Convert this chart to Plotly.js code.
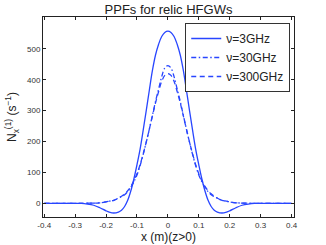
<!DOCTYPE html>
<html>
<head>
<meta charset="utf-8">
<script src="https://cdn.plot.ly/plotly-3.0.1.min.js"></script>
<style>html,body{margin:0;padding:0;background:#fff;}#chart{width:326px;height:245px;}</style>
</head>
<body>
<div id="chart"></div>
<script>
// x positions (m)
const xPos = [-0.4,-0.35,-0.3,-0.28,-0.26,-0.24,-0.22,-0.2,-0.19,-0.175,-0.16,-0.15,-0.14,-0.13,-0.12,-0.11,-0.1,-0.09,-0.08,-0.07,-0.06,-0.05,-0.04,-0.03,-0.02,-0.01,0,
  0.01,0.02,0.03,0.04,0.05,0.06,0.07,0.08,0.09,0.1,0.11,0.12,0.13,0.14,0.15,0.16,0.175,0.19,0.2,0.22,0.24,0.26,0.28,0.3,0.35,0.4];
// nu = 3 GHz (solid)
const n3GHz = [0,0,0,0,-2,-6,-14,-24,-28,-31,-28,-22,-10,10,40,79,125,175,236,300,366,430,480,515,540,553,557,
  553,540,515,480,430,366,300,236,175,125,79,40,10,-10,-22,-28,-31,-28,-24,-14,-6,-2,0,0,0,0];
// nu = 30 GHz (dash-dot)
const n30GHz = [0,0,0,0,0.5,1,2,5,7,10,17,22,28,38,52,70,92,122,158,198,240,285,330,370,410,438,446,
  438,410,370,330,285,240,198,158,122,92,70,52,38,28,22,17,10,7,5,2,1,0.5,0,0,0,0];
// nu = 300 GHz (dashed)
const n300GHz = [0,0,0,0,0.5,1,2,5,7,10,17,23,31,41,55,73,96,125,160,198,240,283,325,362,395,414,420,
  414,395,362,325,283,240,198,160,125,96,73,55,41,31,23,17,10,7,5,2,1,0.5,0,0,0,0];
const seriesNames = ['\u03bd=3GHz','\u03bd=30GHz','\u03bd=300GHz'];
const xTicks = [-0.4,-0.3,-0.2,-0.1,0,0.1,0.2,0.3,0.4];
const xTickText = ['-0.4','-0.3','-0.2','-0.1','0','0.1','0.2','0.3','0.4'];
const yTicks = [0,100,200,300,400,500];

const blue = 'rgb(40,70,255)';
const font = '"Liberation Sans", Arial, Helvetica, sans-serif';
const traces = [
  {x:xPos, y:n3GHz, name:seriesNames[0], mode:'lines', line:{color:blue, width:1.3, dash:'solid', shape:'spline'}},
  {x:xPos, y:n30GHz, name:seriesNames[1], mode:'lines', line:{color:blue, width:1.3, dash:'5px,2.5px,1.5px,2.5px', shape:'spline'}},
  {x:xPos, y:n300GHz, name:seriesNames[2], mode:'lines', line:{color:blue, width:1.3, dash:'5px,3.5px', shape:'spline'}}
];
const axisCommon = {
  showline:true, linecolor:'#222', linewidth:1, mirror:'ticks', ticks:'inside', ticklen:3,
  tickcolor:'#222', showgrid:false, zeroline:false, tickfont:{size:8, color:'#333', family:font}
};
const layout = {
  width:326, height:245,
  margin:{l:43, r:32, t:17, b:28, pad:0},
  paper_bgcolor:'#fff', plot_bgcolor:'#fff',
  font:{family:font, color:'#222'},
  title:{text:'PPFs for relic HFGWs', font:{size:13, color:'#222', family:font}, x:0.5, xref:'paper', y:0.962, yref:'container', yanchor:'middle'},
  xaxis:Object.assign({}, axisCommon, {range:[-0.404,0.408], tickvals:xTicks, ticktext:xTickText,
    title:{text:'x (m)(z>0)', font:{size:12, color:'#222', family:font}, standoff:2}}),
  yaxis:Object.assign({}, axisCommon, {range:[-44,603], tickvals:yTicks,
    title:{text:'N<sub>x</sub><sup>(1)</sup> (s<sup>\u22121</sup>)', font:{size:12, color:'#222', family:font}, standoff:7}}),
  showlegend:true,
  legend:{x:0.985, xanchor:'right', y:0.97, yanchor:'top', bgcolor:'#fff', bordercolor:'#333', borderwidth:1,
    font:{size:12, color:'#222', family:font}, tracegroupgap:0, itemwidth:30}
};
Plotly.newPlot('chart', traces, layout, {staticPlot:true, displayModeBar:false});
</script>
</body>
</html>
